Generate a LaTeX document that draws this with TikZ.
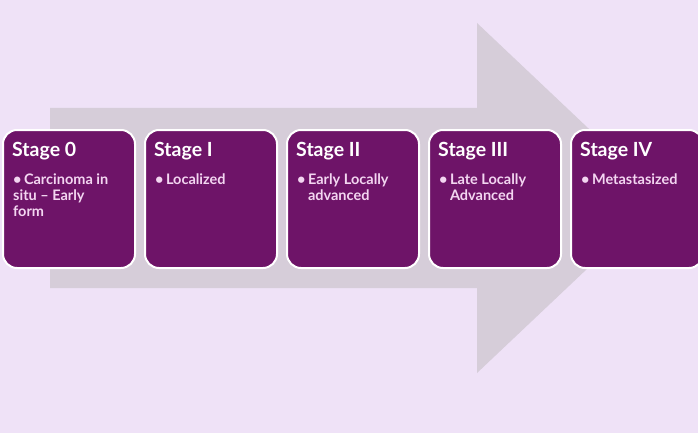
\documentclass[tikz,border=0pt]{standalone}
\usepackage{fontspec}
\setmainfont{Lato}
\usepackage{xcolor}
\usetikzlibrary{positioning}
\definecolor{bgpurple}{HTML}{EFE2F7}
\definecolor{arrowgray}{HTML}{D6CDD9}
\definecolor{stagepurple}{HTML}{6E1468}
\definecolor{bullettext}{HTML}{F3D6F1}
\tikzset{
  stagebox/.style={draw=white, line width=2, fill=stagepurple,
    rounded corners=14, minimum width=132, minimum height=138,
    inner sep=0, outer sep=0},
  stagetitle/.style={anchor=base west, inner sep=0, text=white,
    font=\fontsize{19.5}{22}\selectfont\bfseries},
  stagetext/.style={anchor=north west, inner sep=0, text=bullettext,
    align=left, font=\fontsize{14.5}{16}\selectfont\bfseries}
}
\newcommand{\bul}{\textbullet\,}
\newcommand{\hang}{\phantom{\textbullet\,}}

\begin{document}
\begin{tikzpicture}[x=1pt, y=-1pt]
  \fill[bgpurple] (0,0) rectangle (698,433);
  \useasboundingbox (0,0) rectangle (698,433);

  % big arrow behind the stages
  \fill[arrowgray]
  (50,108) -- (477,108) -- (477,23) -- (662,198)
  -- (477,373) -- (477,288) -- (50,288) -- cycle;

  \node[stagebox, anchor=north west] (s0) at (3,130) {};
  \node[stagebox, right=10 of s0] (s1) {};
  \node[stagebox, right=10 of s1] (s2) {};
  \node[stagebox, right=10 of s2] (s3) {};
  \node[stagebox, right=10 of s3] (s4) {};

  \node[stagetitle] (t0) at ([shift={(9,26)}]s0.north west) {Stage 0};
  \node[stagetitle] (t1) at ([shift={(9,26)}]s1.north west) {Stage I};
  \node[stagetitle] (t2) at ([shift={(9,26)}]s2.north west) {Stage II};
  \node[stagetitle] (t3) at ([shift={(9,26)}]s3.north west) {Stage III};
  \node[stagetitle] (t4) at ([shift={(9,26)}]s4.north west) {Stage IV};

  \node[stagetext] (b0) at ([shift={(10,44)}]s0.north west)
  {\bul Carcinoma in\\ situ -- Early\\ form};
  \node[stagetext] (b1) at ([shift={(10,44)}]s1.north west) {\bul Localized};
  \node[stagetext] (b2) at ([shift={(10,44)}]s2.north west)
  {\bul Early Locally\\ \hang advanced};
  \node[stagetext] (b3) at ([shift={(10,44)}]s3.north west)
  {\bul Late Locally\\ \hang Advanced};
  \node[stagetext] (b4) at ([shift={(10,44)}]s4.north west) {\bul Metastasized};
\end{tikzpicture}
\end{document}
